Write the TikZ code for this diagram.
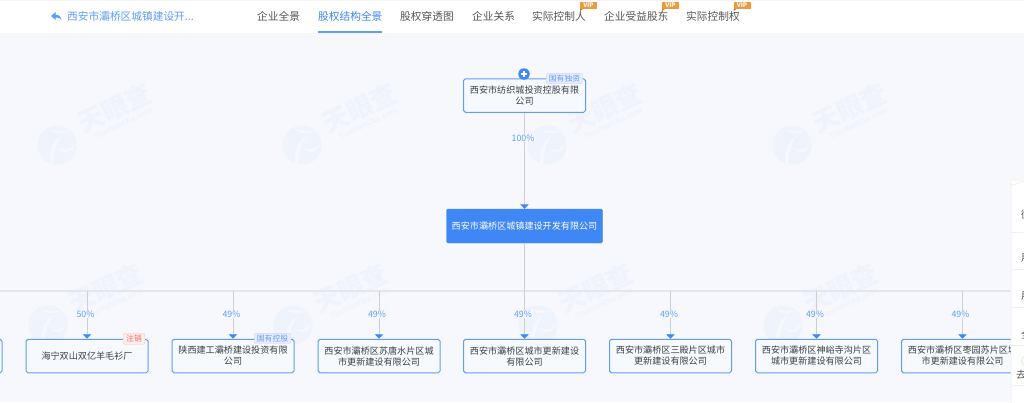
\documentclass[tikz,border=0pt]{standalone}
\usepackage{fontspec}
\setmainfont{Noto Sans CJK SC}
\usetikzlibrary{arrows.meta,positioning}
\definecolor{bgc}{HTML}{F6F8FD}
\definecolor{wm}{HTML}{EFF3FB}
\definecolor{blueA}{HTML}{3F87F5}
\definecolor{nodeb}{HTML}{5E9CF7}
\definecolor{nodef}{HTML}{F6FAFF}
\definecolor{linec}{HTML}{CBCFD8}
\definecolor{hline}{HTML}{E4E6EC}
\definecolor{pct}{HTML}{5E9EFB}
\definecolor{txt}{HTML}{3A3F47}
\definecolor{tabc}{HTML}{555555}
\definecolor{vipc}{HTML}{EE9A3C}
\tikzset{
  x=1pt,y=-1pt,
  company/.style={draw=nodeb,line width=1pt,fill=nodef,rounded corners=1.8pt,minimum width=122pt,minimum height=33.5pt,
     inner sep=0pt,align=center,text=txt,font=\fontsize{9.1}{11}\selectfont},
  mainbox/.style={draw=blueA,fill=blueA,rounded corners=1.5pt,minimum width=156pt,minimum height=34pt,inner sep=0pt,
     text=white,font=\fontsize{9.1}{11}\selectfont},
  conn/.style={draw=linec,line width=0.9pt},
  arrowed/.style={conn,-{Triangle[width=8.5pt,length=4.5pt,color=blueA]}},
  pctlabel/.style={fill=bgc,inner sep=1pt,text=pct,font=\fontsize{8.8}{10}\selectfont},
  tab/.style={text=tabc,font=\fontsize{10.7}{12}\selectfont,inner sep=0pt},
  stateTag/.style={draw=blue!16!white,fill=blue!5!nodef,rounded corners=1pt,text=pct,inner xsep=2.6pt,inner ysep=1.6pt,font=\fontsize{7.8}{8}\selectfont},
  deadTag/.style={draw=red!25!white,fill=red!6!white,rounded corners=1pt,text=red!60!white,inner xsep=3pt,inner ysep=1.6pt,font=\fontsize{7.8}{8}\selectfont},
  viptag/.style={fill=vipc,text=white,inner xsep=1.5pt,inner ysep=0.6pt,minimum width=17pt,minimum height=7.5pt,font=\fontsize{6.2}{6}\selectfont\bfseries},
  sidetxt/.style={text=tabc,font=\fontsize{10}{12}\selectfont,inner sep=0pt,anchor=west},
}
\newcommand{\wmark}[2]{%
  \begin{scope}[shift={(#1,#2)}]
    \fill[wm] (0,0) circle[radius=19.5];
    \fill[bgc] (-8,-19) .. controls (-5,-12) and (4,-16) .. (14,-13) .. controls (5,-13) and (-3,-8) .. (-8,-19);
    \fill[bgc] (-7,19) .. controls (-8,5) and (-3,-6) .. (5,-9) .. controls (-1,-3) and (-3,8) .. (-4,19) -- cycle;
    \fill[bgc] (1,3) .. controls (7,6) and (13,5) .. (19,-2) .. controls (15,8) and (8,10) .. (1,3);
    \node[rotate=25,text=wm,inner sep=0pt,font=\fontsize{26}{26}\selectfont\bfseries] at (58,-37) {天眼查};
    \node[rotate=25,text=wm,inner sep=0pt,font=\fontsize{7.5}{8}\selectfont\bfseries] at (66,-22) {TianYanCha.com};
  \end{scope}}
\begin{document}
\begin{tikzpicture}
\useasboundingbox (0,0) rectangle (1024,402);
\begin{scope}
\clip (0,0) rectangle (1024,402);
\fill[bgc] (0,0) rectangle (1024,402);
% watermarks
\wmark{57}{145}\wmark{302}{145}\wmark{547}{145}\wmark{792}{145}
\wmark{48}{325}\wmark{293}{325}\wmark{538}{325}\wmark{783}{325}
% header
\fill[white] (0,0) rectangle (1024,33);
\fill[black!4] (0,0) rectangle (1024,1);
\fill[pct] (61.5,19.5) .. controls (60.5,15.5) and (57.5,14.5) .. (55.5,14.5) -- (55.5,12) -- (51,16) -- (55.5,20) -- (55.5,17.5) .. controls (57.5,17.5) and (60,17.8) .. (61.5,19.5) -- cycle;
\node[anchor=west,inner sep=0pt,text=pct,font=\fontsize{10.7}{12}\selectfont] (title) at (67,16) {西安市灞桥区城镇建设开...};
\node[tab,anchor=west] (t1) at (257,16) {企业全景};
\node[tab,anchor=west,text=blueA] (t2) at (318,16) {股权结构全景};
\node[tab,anchor=west] (t3) at (400,16) {股权穿透图};
\node[tab,anchor=west] (t4) at (472,16) {企业关系};
\node[tab,anchor=west] (t5) at (532,16) {实际控制人};
\node[tab,anchor=west] (t6) at (604,16) {企业受益股东};
\node[tab,anchor=west] (t7) at (686,16) {实际控制权};
\fill[pct] (318,31) rectangle (382,33);
\node[viptag] (v1) at (588.5,5.5) {VIP};
\node[viptag] (v2) at (670.5,5.5) {VIP};
\node[viptag] (v3) at (742,5.5) {VIP};
\fill[vipc!80!black] (580,9) -- (583,9) -- (580,11) -- cycle;
\fill[vipc!80!black] (662,9) -- (665,9) -- (662,11) -- cycle;
\fill[vipc!80!black] (733.5,9) -- (736.5,9) -- (733.5,11) -- cycle;
% nodes
\node[company] (top) at (524.5,95.5) {西安市纺织城投资控股有限\\公司};
\node[mainbox] (main) at (524.5,226) {西安市灞桥区城镇建设开发有限公司};
\node[company] (c0) at (-59,356) {};
\node[company] (c1) at (87,356) {海宁双山双亿羊毛衫厂};
\node[company] (c2) at (233,356) {陕西建工灞桥建设投资有限\\公司};
\node[company] (c3) at (379,356) {西安市灞桥区苏唐水片区城\\市更新建设有限公司};
\node[company] (c4) at (524.5,356) {西安市灞桥区城市更新建设\\有限公司};
\node[company] (c5) at (670.5,356) {西安市灞桥区三殿片区城市\\更新建设有限公司};
\node[company] (c6) at (816.5,356) {西安市灞桥区神峪寺沟片区\\城市更新建设有限公司};
\node[company] (c7) at (962.5,356) {西安市灞桥区枣园苏片区城\\市更新建设有限公司};
% connectors
\coordinate (hl) at (0,291);
\coordinate (hr) at (1011,291);
\draw[hline,line width=2pt] (hl) -- (hr);
\draw[arrowed] (top.south) -- (main.north);
\draw[conn] (main.south) -- (main.south |- hl);
\foreach \c in {c1,c2,c3,c4,c5,c6,c7}{
  \draw[arrowed] (\c.north |- hl) -- (\c.north);
}
\node[pctlabel] (p0) at (523,138) {100\%};
\node[pctlabel] (p1) at (85.5,314) {50\%};
\node[pctlabel] (p2) at (231.5,314) {49\%};
\node[pctlabel] (p3) at (377,314) {49\%};
\node[pctlabel] (p4) at (523,314) {49\%};
\node[pctlabel] (p5) at (669,314) {49\%};
\node[pctlabel] (p6) at (815,314) {49\%};
\node[pctlabel] (p7) at (960.5,314) {49\%};
% tags
\node[stateTag] (tg1) at (564.5,78.5) {国有独资};
\node[stateTag] (tg2) at (272.5,338.5) {国有控股};
\node[deadTag] (tg3) at (134,339) {注销};
\node[circle,fill=blueA,minimum size=11.5pt,inner sep=0pt] (plus) at (524,74) {};
\draw[white,line width=1.2pt] (520.7,74) -- (527.3,74) (524,70.7) -- (524,77.3);
% side panel
\fill[white,rounded corners=2pt] (1011,181) rectangle (1040,420);
\draw[black!8,line width=0.5pt] (1011,420) -- (1011,183) arc[start angle=180,end angle=90,radius=2] -- (1024,181);
\foreach \y in {232,269,307,345,385}{\draw[black!6,line width=0.6pt] (1011,\y) -- (1024,\y);}
\draw[black!15,fill=white,line width=0.5pt] (1027,361) circle[radius=5.5];
\node[sidetxt] (s1) at (1021,215) {微};
\node[sidetxt] (s2) at (1021,258) {用};
\node[sidetxt] (s3) at (1021,296) {用};
\node[sidetxt] (s4) at (1021,334) {全};
\node[sidetxt] (s5) at (1016,375) {去};
\end{scope}
\end{tikzpicture}
\end{document}
